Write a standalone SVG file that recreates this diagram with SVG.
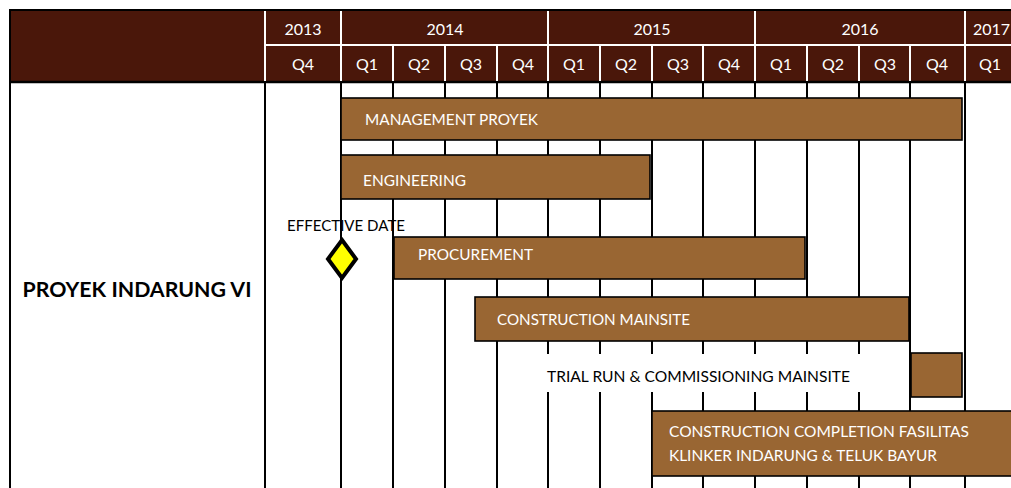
<svg xmlns="http://www.w3.org/2000/svg" width="1011" height="488" viewBox="0 0 1011 488">
  <style>
    .hdr { fill: #4A170A; }
    .hline { stroke: #FFFFFF; stroke-width: 2; }
    .grid { stroke: #000000; stroke-width: 2; }
    .bar { fill: #996633; stroke: #000000; stroke-width: 1.6; }
    .htxt { font-family: Lato, "Liberation Sans", Arial, sans-serif; font-size: 16px; fill: #FFFFFF; text-anchor: middle; }
    .htxt.start { text-anchor: start; }
    .btxt { font-family: Lato, "Liberation Sans", Arial, sans-serif; font-size: 15px; fill: #FFFFFF; }
    .ktxt { font-family: Lato, "Liberation Sans", Arial, sans-serif; font-size: 15px; fill: #000000; }
    .title { font-family: Lato, "Liberation Sans", Arial, sans-serif; font-size: 20px; font-weight: bold; fill: #000000; text-anchor: middle; }
  </style>

  <rect x="0" y="0" width="1011" height="488" fill="#FFFFFF"/>

  <!-- header band -->
  <g id="header">
    <rect class="hdr" x="10" y="10" width="1001" height="72"/>
    <line x1="9" y1="10" x2="1011" y2="10" stroke="#000" stroke-width="2"/>
    <line x1="9" y1="82" x2="1011" y2="82" stroke="#000" stroke-width="2.5"/>
    <!-- year / quarter separator -->
    <line class="hline" x1="265" y1="45" x2="1011" y2="45"/>
    <!-- full-height separators -->
    <line class="hline" x1="265" y1="11" x2="265" y2="81"/>
    <line class="hline" x1="341" y1="11" x2="341" y2="81"/>
    <line class="hline" x1="548" y1="11" x2="548" y2="81"/>
    <line class="hline" x1="755" y1="11" x2="755" y2="81"/>
    <line class="hline" x1="965" y1="11" x2="965" y2="81"/>
    <!-- quarter separators -->
    <line class="hline" x1="393" y1="45" x2="393" y2="81"/>
    <line class="hline" x1="445" y1="45" x2="445" y2="81"/>
    <line class="hline" x1="497" y1="45" x2="497" y2="81"/>
    <line class="hline" x1="600" y1="45" x2="600" y2="81"/>
    <line class="hline" x1="652" y1="45" x2="652" y2="81"/>
    <line class="hline" x1="703" y1="45" x2="703" y2="81"/>
    <line class="hline" x1="807" y1="45" x2="807" y2="81"/>
    <line class="hline" x1="859" y1="45" x2="859" y2="81"/>
    <line class="hline" x1="910" y1="45" x2="910" y2="81"/>

    <text class="htxt" x="303" y="35">2013</text>
    <text class="htxt" x="445" y="35">2014</text>
    <text class="htxt" x="652" y="35">2015</text>
    <text class="htxt" x="860" y="35">2016</text>
    <text class="htxt start" x="973" y="35">2017</text>

    <text class="htxt" x="303" y="70">Q4</text>
    <text class="htxt" x="367" y="70">Q1</text>
    <text class="htxt" x="419" y="70">Q2</text>
    <text class="htxt" x="471" y="70">Q3</text>
    <text class="htxt" x="523" y="70">Q4</text>
    <text class="htxt" x="574" y="70">Q1</text>
    <text class="htxt" x="626" y="70">Q2</text>
    <text class="htxt" x="678" y="70">Q3</text>
    <text class="htxt" x="729" y="70">Q4</text>
    <text class="htxt" x="781" y="70">Q1</text>
    <text class="htxt" x="833" y="70">Q2</text>
    <text class="htxt" x="885" y="70">Q3</text>
    <text class="htxt" x="937" y="70">Q4</text>
    <text class="htxt" x="990" y="70">Q1</text>
  </g>

  <!-- quarter grid lines -->
  <g id="grid">
    <line class="grid" x1="10" y1="9" x2="10" y2="488"/>
    <line class="grid" x1="265" y1="82" x2="265" y2="488"/>
    <line class="grid" x1="341" y1="82" x2="341" y2="488"/>
    <line class="grid" x1="393" y1="82" x2="393" y2="488"/>
    <line class="grid" x1="445" y1="82" x2="445" y2="488"/>
    <line class="grid" x1="497" y1="82" x2="497" y2="488"/>
    <line class="grid" x1="548" y1="82" x2="548" y2="488"/>
    <line class="grid" x1="600" y1="82" x2="600" y2="488"/>
    <line class="grid" x1="652" y1="82" x2="652" y2="488"/>
    <line class="grid" x1="703" y1="82" x2="703" y2="488"/>
    <line class="grid" x1="755" y1="82" x2="755" y2="488"/>
    <line class="grid" x1="807" y1="82" x2="807" y2="488"/>
    <line class="grid" x1="859" y1="82" x2="859" y2="488"/>
    <line class="grid" x1="910" y1="82" x2="910" y2="488"/>
    <line class="grid" x1="965" y1="82" x2="965" y2="488"/>
  </g>

  <g id="project-label">
    <text class="title" x="137" y="297" textLength="229" lengthAdjust="spacingAndGlyphs">PROYEK INDARUNG VI</text>
  </g>

  <g id="management-proyek">
    <rect class="bar" x="341" y="98" width="621" height="42"/>
    <text class="btxt" x="365" y="125" textLength="173" lengthAdjust="spacingAndGlyphs">MANAGEMENT PROYEK</text>
  </g>

  <g id="engineering">
    <rect class="bar" x="341" y="155" width="309" height="44"/>
    <text class="btxt" x="363" y="186" textLength="103" lengthAdjust="spacingAndGlyphs">ENGINEERING</text>
  </g>

  <g id="effective-date">
    <polygon points="342,240 356,259 342,278 328,259" fill="#FFFF00" stroke="#000000" stroke-width="4" stroke-linejoin="miter"/>
    <text class="ktxt" x="287" y="231" textLength="118" lengthAdjust="spacingAndGlyphs">EFFECTIVE DATE</text>
  </g>

  <g id="procurement">
    <rect class="bar" x="394" y="237" width="411" height="42"/>
    <text class="btxt" x="418" y="260" textLength="115" lengthAdjust="spacingAndGlyphs">PROCUREMENT</text>
  </g>

  <g id="construction-mainsite">
    <rect class="bar" x="475" y="297" width="434" height="44"/>
    <text class="btxt" x="497" y="325" textLength="193" lengthAdjust="spacingAndGlyphs">CONSTRUCTION MAINSITE</text>
  </g>

  <g id="trial-run">
    <rect x="547" y="354" width="362" height="38" fill="#FFFFFF"/>
    <rect class="bar" x="911" y="353" width="51" height="44"/>
    <text class="ktxt" x="547" y="382" textLength="303" lengthAdjust="spacingAndGlyphs">TRIAL RUN &amp; COMMISSIONING MAINSITE</text>
  </g>

  <g id="construction-completion">
    <rect class="bar" x="652" y="411" width="370" height="65"/>
    <text class="btxt" x="669" y="437" textLength="300" lengthAdjust="spacingAndGlyphs">CONSTRUCTION  COMPLETION FASILITAS</text>
    <text class="btxt" x="669" y="461" textLength="268" lengthAdjust="spacingAndGlyphs">KLINKER INDARUNG &amp; TELUK BAYUR</text>
  </g>
</svg>
